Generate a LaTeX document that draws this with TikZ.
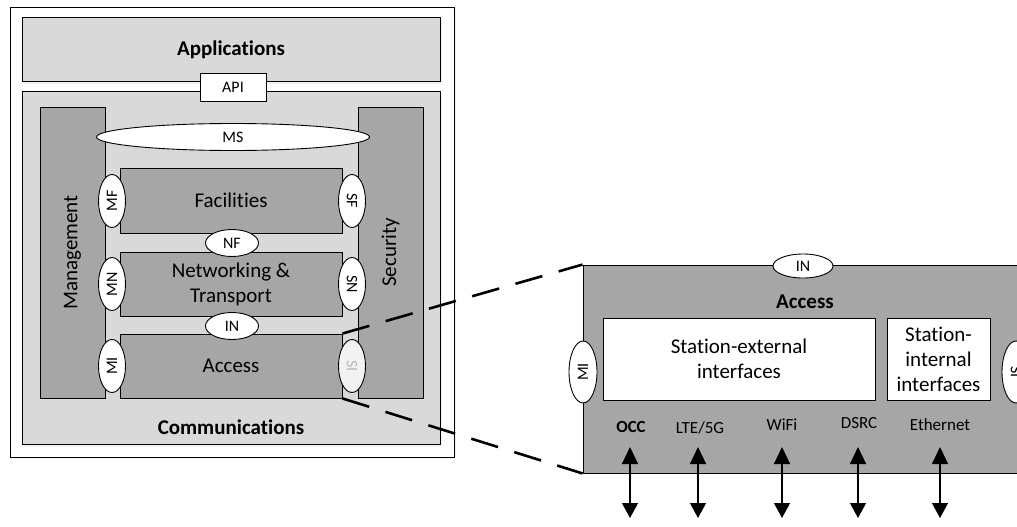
\documentclass[tikz,border=0pt]{standalone}
\usepackage{fontspec}
\setmainfont{Carlito}[Ligatures=NoCommon]
\usepackage{tikz}
\usetikzlibrary{arrows.meta,shapes.geometric,shadows}

\definecolor{lightbox}{HTML}{D9D9D9}
\definecolor{darkbox}{HTML}{A6A6A6}
\definecolor{glow}{HTML}{DCE6F2}

\begin{document}
\begin{tikzpicture}[x=1pt,y=-1pt,
    box/.style={draw,line width=0.9pt,rectangle,inner sep=0pt},
    layer/.style={box,fill=lightbox,drop shadow={fill=glow,shadow xshift=1.5pt,shadow yshift=-3pt}},
    stack/.style={box,fill=darkbox,drop shadow={fill=glow,shadow xshift=1pt,shadow yshift=-2pt}},
    iface/.style={draw,line width=0.9pt,ellipse,fill=white,inner sep=0pt,font=\fontsize{16}{18}\selectfont},
    sap/.style={iface,minimum width=27pt,minimum height=53pt},
    bigtext/.style={font=\fontsize{21}{25}\selectfont},
    boldtext/.style={font=\fontsize{21}{25}\selectfont\bfseries},
    radio/.style={font=\fontsize{17}{20}\selectfont},
    link/.style={{Triangle[width=16pt,length=17pt]}-{Triangle[width=16pt,length=15pt]},line width=1.2pt},
    zoomline/.style={line width=2.6pt,dash pattern=on 28pt off 17pt}]
  \useasboundingbox (0,0) rectangle (1017,527);
  \clip (0,0) rectangle (1017,527);

  \node[box,fill=white,minimum width=444pt,minimum height=450pt,
        drop shadow={fill=glow,shadow xshift=1.5pt,shadow yshift=-2pt}] (outer) at (232,232) {};
  \node[layer,minimum width=418pt,minimum height=64pt] (apps) at (231,49) {};
  \node[boldtext] (appslabel) at (231,50) {Applicat\kern0pt ions};
  \node[layer,minimum width=418pt,minimum height=353pt] (comm) at (231,267.5) {};
  \node[box,fill=white,minimum width=66pt,minimum height=28pt,font=\fontsize{16}{18}\selectfont] (api) at (233,87) {API};
  \node[boldtext] (commlabel) at (231,427) {Communicat\kern0pt ions};

  \node[stack,minimum width=65pt,minimum height=291pt] (mgmt) at (72.5,252.5) {};
  \node[bigtext,rotate=90] (mgmtlabel) at (72.5,252.5) {Management};
  \node[stack,minimum width=65pt,minimum height=291pt] (sec) at (390.5,252.5) {};
  \node[bigtext,rotate=90] (seclabel) at (390.5,252.5) {Security};

  \node[stack,minimum width=222pt,minimum height=65pt,bigtext] (fac) at (231,200.5) {Facilit\kern0pt ies};
  \node[stack,minimum width=222pt,minimum height=64pt,bigtext,align=center] (net) at (231,284) {Networking \&\\Transport};
  \node[stack,minimum width=222pt,minimum height=64pt,bigtext] (acc) at (231,366) {Access};

  \node[iface,minimum width=273pt,minimum height=27pt] (ms) at (233,137) {MS};
  \node[iface,minimum width=53pt,minimum height=27pt] (nf) at (232,243) {NF};
  \node[iface,minimum width=53pt,minimum height=27pt] (in) at (232,326) {IN};
  \node[sap] (mf) at (112,201) {}; \node[rotate=90,font=\fontsize{16}{18}\selectfont] at (mf) {MF};
  \node[sap] (mn) at (112,284) {}; \node[rotate=90,font=\fontsize{16}{18}\selectfont] at (mn) {MN};
  \node[sap] (mi) at (112,366) {}; \node[rotate=90,font=\fontsize{16}{18}\selectfont] at (mi) {MI};
  \node[sap] (sf) at (352,201) {}; \node[rotate=-90,font=\fontsize{16}{18}\selectfont] at (sf) {SF};
  \node[sap] (sn) at (352,284) {}; \node[rotate=-90,font=\fontsize{16}{18}\selectfont] at (sn) {SN};
  \node[sap,fill=gray!10] (si) at (352,366) {}; \node[rotate=-90,text=gray!55,font=\fontsize{16}{18}\selectfont] at (si) {SI};

  \node[box,fill=darkbox,minimum width=434pt,minimum height=208pt] (zacc) at (800,369) {};
  \node[iface,minimum width=60pt,minimum height=24pt] (zin) at (803,266) {IN};
  \node[boldtext] (zacclabel) at (805,302) {Access};
  \node[box,fill=white,minimum width=272pt,minimum height=82pt,bigtext,align=center] (ext) at (739,359) {Station-external\\interfaces};
  \node[box,fill=white,minimum width=103pt,minimum height=82pt,bigtext,align=center] (int) at (938.5,359) {Station-\\internal\\interfaces};
  \node[iface,minimum width=28pt,minimum height=62pt] (zmi) at (583,372) {}; \node[rotate=90,font=\fontsize{16}{18}\selectfont] at (zmi) {MI};
  \node[iface,minimum width=28pt,minimum height=62pt] (zsi) at (1016,372) {}; \node[rotate=-90,font=\fontsize{16}{18}\selectfont] at (zsi) {SI};

  \node[radio,font=\fontsize{17}{20}\selectfont\bfseries] (occ) at (631,427) {OCC};
  \node[radio] (lte) at (700,428) {LTE/5G};
  \node[radio] (wifi) at (782,425) {WiFi};
  \node[radio] (dsrc) at (859,423) {DSRC};
  \node[radio] (eth) at (940,425) {Ethernet};

  \coordinate (occtop) at (630,447);  \coordinate (occbot) at (630,518);
  \coordinate (ltetop) at (698,447);  \coordinate (ltebot) at (698,518);
  \coordinate (wifitop) at (782,447); \coordinate (wifibot) at (782,518);
  \coordinate (dsrctop) at (858,447); \coordinate (dsrcbot) at (858,518);
  \coordinate (ethtop) at (940,447);  \coordinate (ethbot) at (940,518);

  \path[link]
        (occtop) edge (occbot)
        (ltetop) edge (ltebot)
        (wifitop) edge (wifibot)
        (dsrctop) edge (dsrcbot)
        (ethtop) edge (ethbot);

  \draw[zoomline] (acc.north east) -- (zacc.north west);
  \draw[zoomline] (acc.south east) -- (zacc.south west);
\end{tikzpicture}
\end{document}
